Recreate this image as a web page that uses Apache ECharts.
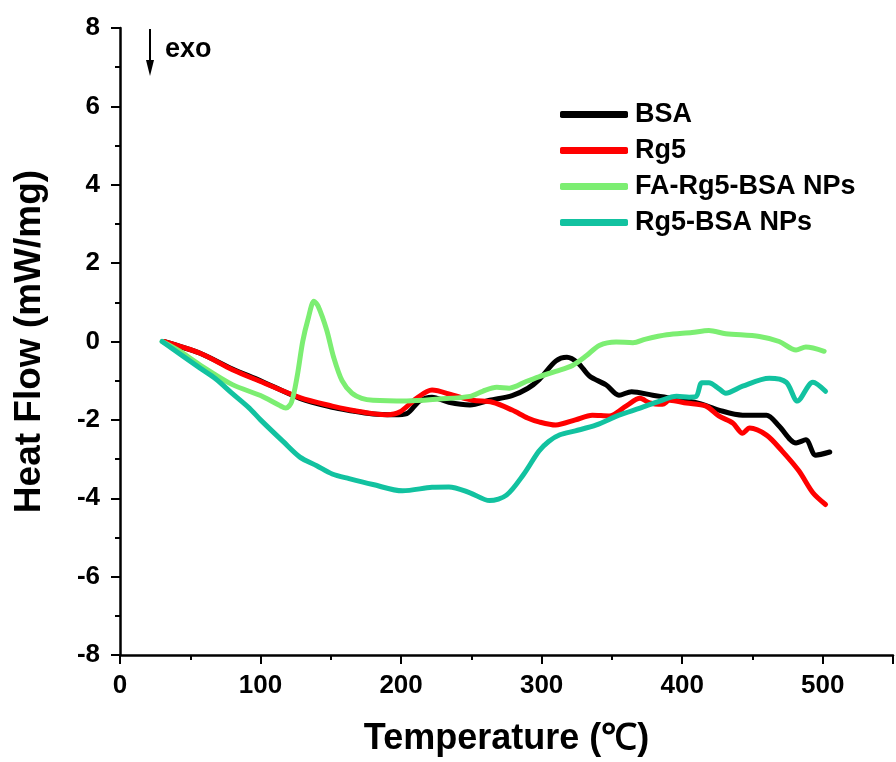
<!DOCTYPE html>
<html>
<head>
<meta charset="utf-8">
<script src="https://cdn.jsdelivr.net/npm/echarts@6/dist/echarts.min.js"></script>
<style>html,body{margin:0;padding:0;background:#fff;}#c{width:896px;height:762px;}</style>
</head>
<body>
<div id="c"></div>
<script>
var seriesNames = ['BSA', 'Rg5', 'FA-Rg5-BSA NPs', 'Rg5-BSA NPs'];
var seriesColors = ['#000000', '#ff0000', '#7cee72', '#12c2a0'];
var xTicks = [0, 100, 200, 300, 400, 500];
var yTicks = [-8, -6, -4, -2, 0, 2, 4, 6, 8];

var bsa = [[31,0],[57,-0.3],[80,-0.7],[100,-1.0],[128,-1.45],[151,-1.68],[163,-1.76],[180,-1.85],[195,-1.87],[204,-1.84],[213,-1.52],[222,-1.42],[234,-1.55],[249,-1.62],[263,-1.5],[279,-1.38],[290,-1.2],[298,-0.98],[310,-0.5],[318,-0.4],[326,-0.55],[334,-0.88],[346,-1.11],[355,-1.37],[364,-1.28],[379,-1.37],[393,-1.45],[412,-1.58],[426,-1.75],[443,-1.88],[460,-1.88],[469,-2.16],[481,-2.59],[488,-2.51],[495,-2.9],[505,-2.82]];
var rg5 = [[31,0],[57,-0.3],[80,-0.72],[100,-1.02],[128,-1.43],[151,-1.65],[163,-1.74],[180,-1.84],[190,-1.87],[199,-1.8],[211,-1.45],[222,-1.24],[237,-1.37],[251,-1.5],[265,-1.55],[279,-1.75],[290,-1.95],[298,-2.05],[310,-2.13],[324,-2.0],[336,-1.88],[348,-1.9],[360,-1.65],[370,-1.45],[377,-1.57],[386,-1.6],[391,-1.5],[403,-1.57],[417,-1.65],[426,-1.9],[436,-2.08],[443,-2.34],[448,-2.21],[460,-2.39],[471,-2.79],[483,-3.3],[493,-3.86],[502,-4.16]];
var faRg5Bsa = [[30,0],[45,-0.3],[57,-0.6],[80,-1.1],[100,-1.38],[113,-1.62],[118,-1.7],[122,-1.55],[126,-0.9],[130,0.0],[134,0.6],[138,1.03],[141,0.9],[147,0.3],[152,-0.4],[158,-1.0],[165,-1.32],[172,-1.45],[180,-1.5],[204,-1.52],[227,-1.47],[249,-1.4],[258,-1.27],[268,-1.17],[277,-1.19],[289,-1.02],[298,-0.9],[310,-0.76],[322,-0.61],[332,-0.36],[341,-0.1],[353,-0.01],[365,-0.03],[374,0.06],[389,0.17],[407,0.23],[419,0.28],[431,0.2],[455,0.13],[469,0.0],[481,-0.22],[488,-0.14],[501,-0.25]];
var rg5Bsa = [[30,0],[57,-0.68],[68,-0.95],[80,-1.33],[92,-1.7],[100,-2.0],[116,-2.55],[128,-2.95],[140,-3.17],[151,-3.38],[163,-3.5],[180,-3.65],[201,-3.81],[222,-3.72],[234,-3.71],[249,-3.86],[263,-4.06],[275,-3.92],[287,-3.4],[298,-2.8],[305,-2.55],[313,-2.38],[324,-2.28],[339,-2.13],[355,-1.88],[370,-1.7],[384,-1.52],[396,-1.4],[405,-1.42],[410,-1.4],[414,-1.05],[419,-1.05],[426,-1.2],[431,-1.32],[443,-1.14],[462,-0.94],[474,-1.04],[482,-1.52],[493,-1.04],[502,-1.27]];

var allData = [bsa, rg5, faRg5Bsa, rg5Bsa];
var font = 'Liberation Sans, Arial, sans-serif';

var chart = echarts.init(document.getElementById('c'), null, {renderer: 'canvas'});
var axisCommon = {
  axisLine: {show: true, onZero: false, lineStyle: {color: '#000', width: 2.5}},
  axisTick: {show: true, length: 9, lineStyle: {color: '#000', width: 2}},
  minorTick: {show: true, splitNumber: 2, length: 5, lineStyle: {color: '#000', width: 2}},
  splitLine: {show: false},
  axisLabel: {color: '#000', fontFamily: font, fontWeight: 'bold', fontSize: 26}
};
chart.setOption({
  backgroundColor: '#fff',
  animation: false,
  grid: {left: 120, top: 28, right: 3, bottom: 104, containLabel: false},
  legend: {
    orient: 'vertical', left: 555, top: 96,
    itemWidth: 68, itemHeight: 7, itemGap: 9,
    icon: 'roundRect',
    data: seriesNames,
    textStyle: {color: '#000', fontFamily: font, fontWeight: 'bold', fontSize: 27, lineHeight: 27, padding: [0,0,0,2]}
  },
  xAxis: Object.assign({}, axisCommon, {
    type: 'value', min: 0, max: 550, interval: 100,
    name: 'Temperature (\u2103)', nameLocation: 'middle', nameGap: 66,
    nameTextStyle: {color: '#000', fontFamily: font, fontWeight: 'bold', fontSize: 36},
    axisLabel: Object.assign({}, axisCommon.axisLabel, {margin: 18, showMaxLabel: false,
      formatter: function (v) { return xTicks.indexOf(v) >= 0 ? String(v) : ''; }})
  }),
  yAxis: Object.assign({}, axisCommon, {
    type: 'value', min: -8, max: 8, interval: 2,
    name: 'Heat Flow (mW/mg)', nameLocation: 'middle', nameGap: 72, nameRotate: 90,
    nameTextStyle: {color: '#000', fontFamily: font, fontWeight: 'bold', fontSize: 37},
    axisLabel: Object.assign({}, axisCommon.axisLabel, {margin: 20,
      formatter: function (v) { return yTicks.indexOf(v) >= 0 ? String(v) : ''; }})
  }),
  graphic: [
    {type: 'line', shape: {x1: 150, y1: 29, x2: 150, y2: 66}, style: {stroke: '#000', lineWidth: 2}},
    {type: 'polygon', shape: {points: [[146, 60], [154, 60], [150, 76]]}, style: {fill: '#000'}},
    {type: 'text', left: 165, top: 36, style: {text: 'exo', fill: '#000', font: 'bold 27px ' + font}}
  ],
  series: seriesNames.map(function (n, i) {
    return {
      name: n, type: 'line', data: allData[i], showSymbol: false, symbol: 'none',
      smooth: 0.3,
      lineStyle: {color: seriesColors[i], width: 5, cap: 'round', join: 'round'},
      itemStyle: {color: seriesColors[i]},
      z: i === 0 ? 2 : 3 + i
    };
  })
});
</script>
</body>
</html>
